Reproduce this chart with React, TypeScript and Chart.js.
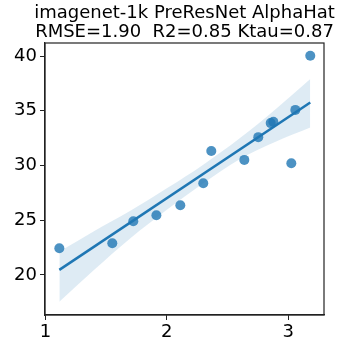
import React, { useEffect, useRef } from "react";
import { Chart, registerables } from "chart.js";

Chart.register(...registerables);

const titleLines = ["imagenet-1k PreResNet AlphaHat", "RMSE=1.90  R2=0.85 Ktau=0.87"];

const pointX = [1.115, 1.551, 1.724, 1.914, 2.111, 2.3, 2.366, 2.638, 2.753, 2.855, 2.877, 3.025, 3.058, 3.181];
const pointY = [22.44, 22.9, 24.91, 25.46, 26.37, 28.38, 31.33, 30.51, 32.59, 33.87, 33.99, 30.21, 35.08, 40.02];

const fitX = [1.115, 3.181];
const fitY = [20.46, 35.75];

const bandX = [1.115, 1.4, 1.7, 2.0, 2.3, 2.6, 2.9, 3.181];
const bandUpper = [22.13, 24.0, 25.86, 27.91, 30.07, 32.48, 35.19, 37.9];
const bandLower = [17.56, 20.45, 23.36, 25.96, 28.37, 30.58, 32.19, 33.47];

const xTicks = [1, 2, 3];
const yTicks = [20, 25, 30, 35, 40];
const xRange = [0.997, 3.294];
const yRange = [16.34, 41.19];

const BLUE = "#1f77b4";
const AXIS = "#222222";
const FONT = "DejaVu Sans";

export default function App() {
  const ref = useRef<HTMLCanvasElement | null>(null);

  useEffect(() => {
    if (!ref.current) return;
    const zip = (xs: number[], ys: number[]) => xs.map((x, i) => ({ x, y: ys[i] }));

    const framePlugin = {
      id: "frame",
      afterDraw(chart: any) {
        const { ctx, chartArea: a } = chart;
        ctx.save();
        ctx.strokeStyle = AXIS;
        ctx.lineWidth = 1.2;
        ctx.strokeRect(a.left, a.top, a.right - a.left, a.bottom - a.top);
        ctx.fillStyle = "#000";
        ctx.font = `18px "${FONT}"`;
        ctx.textAlign = "center";
        ctx.textBaseline = "alphabetic";
        const cx = (a.left + a.right) / 2;
        ctx.fillText(titleLines[0], cx, 18);
        ctx.fillText(titleLines[1], cx, 37);
        ctx.restore();
      },
    };

    const chart = new Chart(ref.current, {
      type: "scatter",
      data: {
        datasets: [
          {
            type: "scatter",
            data: zip(pointX, pointY),
            pointRadius: 5,
            pointHoverRadius: 5,
            backgroundColor: "rgba(31,119,180,0.8)",
            borderWidth: 0,
            order: 0,
          } as any,
          {
            type: "line",
            data: zip(fitX, fitY),
            borderColor: BLUE,
            borderWidth: 2.5,
            pointRadius: 0,
            fill: false,
            order: 1,
          },
          {
            type: "line",
            data: zip(bandX, bandUpper),
            borderWidth: 0,
            borderColor: "rgba(0,0,0,0)",
            pointRadius: 0,
            backgroundColor: "rgba(31,119,180,0.15)",
            fill: "+1",
            cubicInterpolationMode: "monotone",
            order: 2,
          },
          {
            type: "line",
            data: zip(bandX, bandLower),
            borderWidth: 0,
            borderColor: "rgba(0,0,0,0)",
            pointRadius: 0,
            fill: false,
            cubicInterpolationMode: "monotone",
            order: 3,
          },
        ],
      },
      options: {
        responsive: false,
        animation: false,
        layout: { padding: { top: 43, right: 36, left: 0, bottom: 0 } },
        plugins: {
          legend: { display: false },
          title: { display: false },
          tooltip: { enabled: false },
        },
        scales: {
          x: {
            type: "linear",
            min: xRange[0],
            max: xRange[1],
            afterBuildTicks: (s: any) => {
              s.ticks = xTicks.map((v) => ({ value: v }));
            },
            afterFit: (s: any) => {
              s.height = 45;
            },
            grid: { display: true, drawOnChartArea: false, drawTicks: true, tickLength: 5, color: AXIS },
            border: { display: true, color: AXIS, width: 1.2 },
            ticks: {
              color: "#000",
              font: { family: FONT, size: 18 },
              padding: 2,
              maxRotation: 0,
              callback: (v: any) => String(v),
            },
          },
          y: {
            type: "linear",
            min: yRange[0],
            max: yRange[1],
            afterBuildTicks: (s: any) => {
              s.ticks = yTicks.map((v) => ({ value: v }));
            },
            afterFit: (s: any) => {
              s.width = 45;
            },
            grid: { display: true, drawOnChartArea: false, drawTicks: true, tickLength: 5, color: AXIS },
            border: { display: true, color: AXIS, width: 1.2 },
            ticks: {
              color: "#000",
              font: { family: FONT, size: 18 },
              padding: 3,
              callback: (v: any) => String(v),
            },
          },
        },
      },
      plugins: [framePlugin],
    });
    return () => chart.destroy();
  }, []);

  return (
    <div style={{ position: "fixed", left: 0, top: 0, width: 360, height: 360, background: "#fff" }}>
      <canvas ref={ref} width={360} height={360} />
    </div>
  );
}
